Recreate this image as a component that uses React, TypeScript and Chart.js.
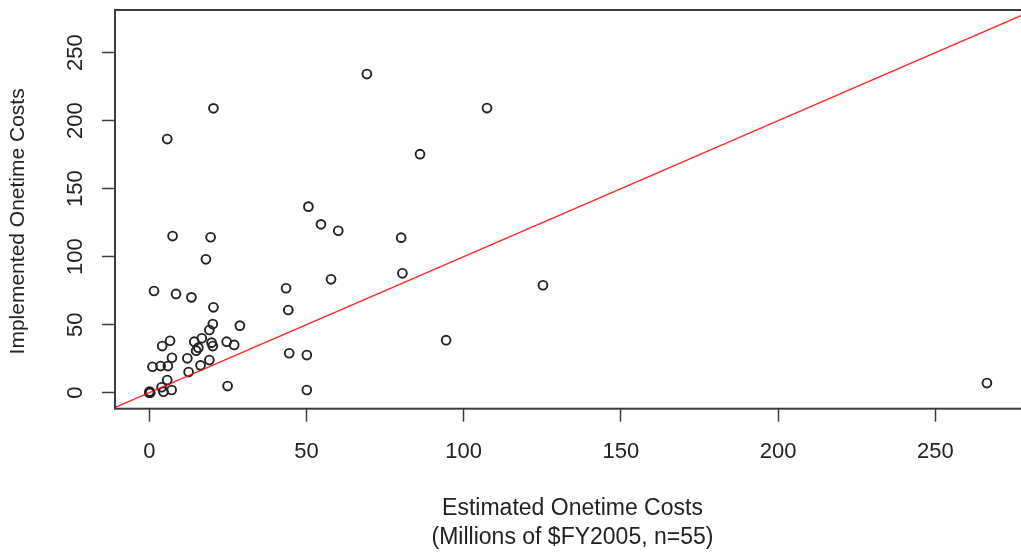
import React, { useEffect, useRef } from "react";
import { Chart, registerables } from "chart.js";

Chart.register(...registerables);

// Estimated onetime costs (x) and implemented onetime costs (y), millions $FY2005
const estimated: number[] = [
  0, 0.1, 0.3, 4.5, 7.1, 3.9, 5.7, 12.5, 1.0, 3.6, 5.9, 16.3, 24.9,
  7.2, 12.1, 19.1, 6.6, 4.1, 14.3, 16.7, 19.8, 20.2, 15.6, 14.9, 24.6, 27.0,
  20.2, 28.8, 19.1, 20.4, 13.4, 8.5, 1.5, 18.0, 7.4, 19.5, 5.7, 20.4,
  50.6, 54.6, 60.1, 80.1, 57.8, 80.5, 43.5, 44.2, 44.5, 50.1, 50.1,
  69.2, 107.4, 86.1, 94.4, 125.2, 266.4,
];
const implemented: number[] = [
  0, 0.8, 0, 0.7, 2.0, 4.0, 9.3, 15.2, 19.1, 19.6, 19.6, 20.1, 4.9,
  25.7, 25.3, 24.0, 38.2, 34.3, 37.5, 40.0, 36.8, 34.3, 33.1, 30.9, 37.5, 35.1,
  50.5, 49.3, 46.1, 62.8, 70.1, 72.6, 74.8, 98.1, 115.2, 114.3, 186.5, 209.1,
  136.8, 123.8, 119.1, 114.0, 83.4, 87.8, 76.8, 60.8, 29.0, 27.7, 2.0,
  234.3, 209.3, 175.4, 38.6, 79.0, 7.1,
];

// Reference line y = x (endpoints, clipped to the plot region)
const refLine: number[] = [-20, 300];

const xTicks: number[] = [0, 50, 100, 150, 200, 250];
const yTicks: number[] = [0, 50, 100, 150, 200, 250];

const xTitle: string[] = ["Estimated Onetime Costs", "(Millions of $FY2005, n=55)"];
const yTitle = "Implemented Onetime Costs";

const FONT = '"Liberation Sans", Arial, sans-serif';
const TEXT = "#222222";
const AXIS = "#3c3c3c";

const rPlotPlugin = {
  id: "rPlot",
  afterDraw(chart: any) {
    const { ctx, chartArea, scales } = chart;
    ctx.save();
    ctx.strokeStyle = AXIS;
    ctx.lineWidth = 2;
    ctx.strokeRect(
      chartArea.left,
      chartArea.top,
      chartArea.right - chartArea.left,
      chartArea.bottom - chartArea.top
    );
    const ys = scales.y;
    ctx.fillStyle = TEXT;
    ctx.font = `22px ${FONT}`;
    ctx.textAlign = "center";
    ctx.textBaseline = "alphabetic";
    for (const v of yTicks) {
      const py = ys.getPixelForValue(v);
      ctx.save();
      ctx.translate(chartArea.left - 33, py);
      ctx.rotate(-Math.PI / 2);
      ctx.fillText(String(v), 0, 0);
      ctx.restore();
    }
    // y axis title
    ctx.font = `21px ${FONT}`;
    ctx.textBaseline = "middle";
    ctx.save();
    ctx.translate(18, (chartArea.top + chartArea.bottom) / 2 + 12);
    ctx.rotate(-Math.PI / 2);
    ctx.fillText(yTitle, 0, 0);
    ctx.restore();
    ctx.restore();
  },
};

export default function App() {
  const ref = useRef<HTMLCanvasElement | null>(null);

  useEffect(() => {
    if (!ref.current) return;
    const points = estimated.map((x, i) => ({ x, y: implemented[i] }));
    const line = refLine.map((v) => ({ x: v, y: v }));
    const chart = new Chart(ref.current, {
      type: "scatter",
      data: {
        datasets: [
          {
            type: "line",
            data: line,
            borderColor: "rgba(255,0,0,0.85)",
            borderWidth: 1.5,
            pointRadius: 0,
            fill: false,
            order: 0,
          } as any,
          {
            type: "scatter",
            data: points,
            pointStyle: "circle",
            pointRadius: 4.4,
            pointBorderWidth: 1.9,
            borderColor: "#222222",
            backgroundColor: "rgba(0,0,0,0)",
            pointBackgroundColor: "rgba(0,0,0,0)",
            pointBorderColor: "#222222",
            order: 1,
          } as any,
        ],
      },
      options: {
        responsive: false,
        animation: false,
        devicePixelRatio: 1,
        layout: { autoPadding: false, padding: { top: 10, left: 0, right: 0, bottom: 0 } },
        plugins: {
          legend: { display: false },
          tooltip: { enabled: false },
        },
        scales: {
          x: {
            type: "linear",
            min: -10.91,
            max: 280.1,
            afterBuildTicks: (s: any) => {
              s.ticks = xTicks.map((v) => ({ value: v }));
            },
            afterFit: (s: any) => {
              s.height = 143.3;
              s.paddingLeft = 0;
              s.paddingRight = 0;
            },
            grid: {
              display: true,
              drawOnChartArea: false,
              drawTicks: true,
              tickLength: 13,
              tickColor: AXIS,
              tickWidth: 1.5,
            },
            border: { display: false },
            ticks: {
              padding: 17,
              color: TEXT,
              font: { family: FONT, size: 22 },
              maxRotation: 0,
              minRotation: 0,
            },
            title: {
              display: true,
              text: xTitle,
              color: TEXT,
              font: { family: FONT, size: 23, lineHeight: 1.27 },
              padding: { top: 0, bottom: 0 },
            },
          },
          y: {
            type: "linear",
            min: -11.76,
            max: 281.4,
            afterBuildTicks: (s: any) => {
              s.ticks = yTicks.map((v) => ({ value: v }));
            },
            afterFit: (s: any) => {
              s.width = 115;
              s.paddingTop = 0;
              s.paddingBottom = 0;
            },
            grid: {
              display: true,
              drawOnChartArea: false,
              drawTicks: true,
              tickLength: 13,
              tickColor: AXIS,
              tickWidth: 1.5,
            },
            border: { display: false },
            ticks: { display: false },
            title: { display: false },
          },
        },
      },
      plugins: [rPlotPlugin],
    });
    return () => chart.destroy();
  }, []);

  return (
    <div
      style={{
        position: "fixed",
        left: 0,
        top: 0,
        width: 1021,
        height: 552,
        overflow: "hidden",
        background: "#ffffff",
      }}
    >
      <canvas ref={ref} width={1030} height={552} style={{ display: "block" }} />
    </div>
  );
}
